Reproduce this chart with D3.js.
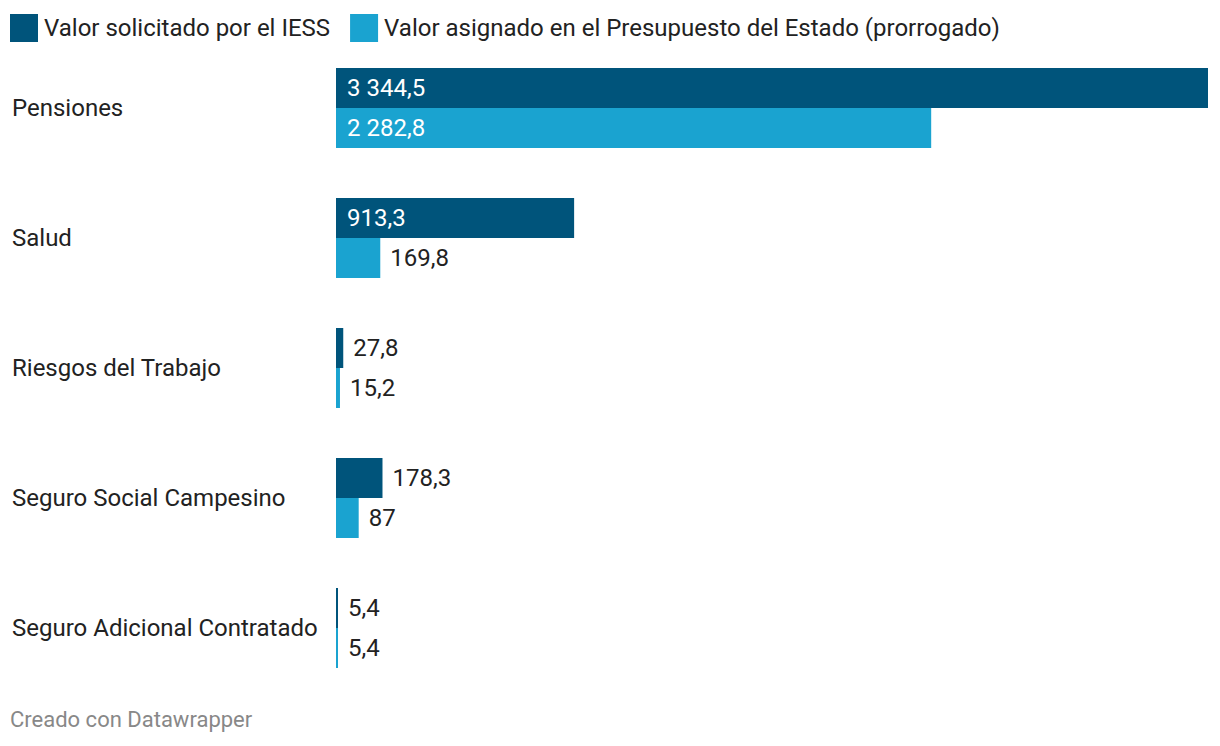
<!DOCTYPE html>
<html><head><meta charset="utf-8">
<script src="https://cdn.jsdelivr.net/npm/d3@7"></script>
<style>body{margin:0;background:#fff;}svg{display:block;font-family:Roboto,sans-serif;}</style>
</head><body>
<script>
const categories = ["Pensiones","Salud","Riesgos del Trabajo","Seguro Social Campesino","Seguro Adicional Contratado"];
const seriesNames = ["Valor solicitado por el IESS","Valor asignado en el Presupuesto del Estado (prorrogado)"];
const solicitado = [3344.5, 913.3, 27.8, 178.3, 5.4];
const asignado = [2282.8, 169.8, 15.2, 87, 5.4];
const colors = ["#00547b","#1aa3d0"];

const W=1220,H=746, FS=24;
const svg=d3.select("body").append("svg").attr("width",W).attr("height",H);

const fmt = v => d3.format(",")(v).replace(/,/g," ").replace(".",",");

// legend
let lx=10;
seriesNames.forEach((n,i)=>{
  svg.append("rect").attr("x",lx).attr("y",14).attr("width",28).attr("height",28).attr("fill",colors[i]);
  const t=svg.append("text").attr("x",lx+34).attr("y",36).attr("font-size",FS).attr("fill","#222").text(n);
  lx += 34 + t.node().getComputedTextLength() + 20;
});

const x=d3.scaleLinear().domain([0,d3.max(solicitado)]).range([336,1208]);
const y=d3.scaleBand().domain(categories).range([68,668]).paddingInner(0.3846).paddingOuter(0);
const y0=d3.scaleBand().domain([0,1]).range([0,y.bandwidth()]);

const g=svg.selectAll("g.cat").data(categories).enter().append("g").attr("transform",d=>`translate(0,${y(d)})`);
g.append("text").attr("x",12).attr("y",y.bandwidth()/2+8).attr("font-size",FS).attr("fill","#222").text(d=>d);

[solicitado,asignado].forEach((arr,si)=>{
  g.append("rect").attr("x",x(0)).attr("y",y0(si)).attr("height",y0.bandwidth())
   .attr("width",(d,i)=>Math.max(2,x(arr[i])-x(0))).attr("fill",colors[si]);
  g.append("text").attr("font-size",FS).attr("y",y0(si)+y0.bandwidth()/2+8)
   .each(function(d,i){
     const v=arr[i], w=x(v)-x(0);
     const sel=d3.select(this).text(fmt(v));
     const tw=this.getComputedTextLength();
     if(w>tw+20){sel.attr("x",x(0)+11).attr("fill","#fff");}
     else{sel.attr("x",x(0)+Math.max(w,2)+10).attr("fill","#222");}
   });
});

svg.append("text").attr("x",10).attr("y",727).attr("font-size",22).attr("fill","#888").text("Creado con Datawrapper");
</script>
</body></html>
